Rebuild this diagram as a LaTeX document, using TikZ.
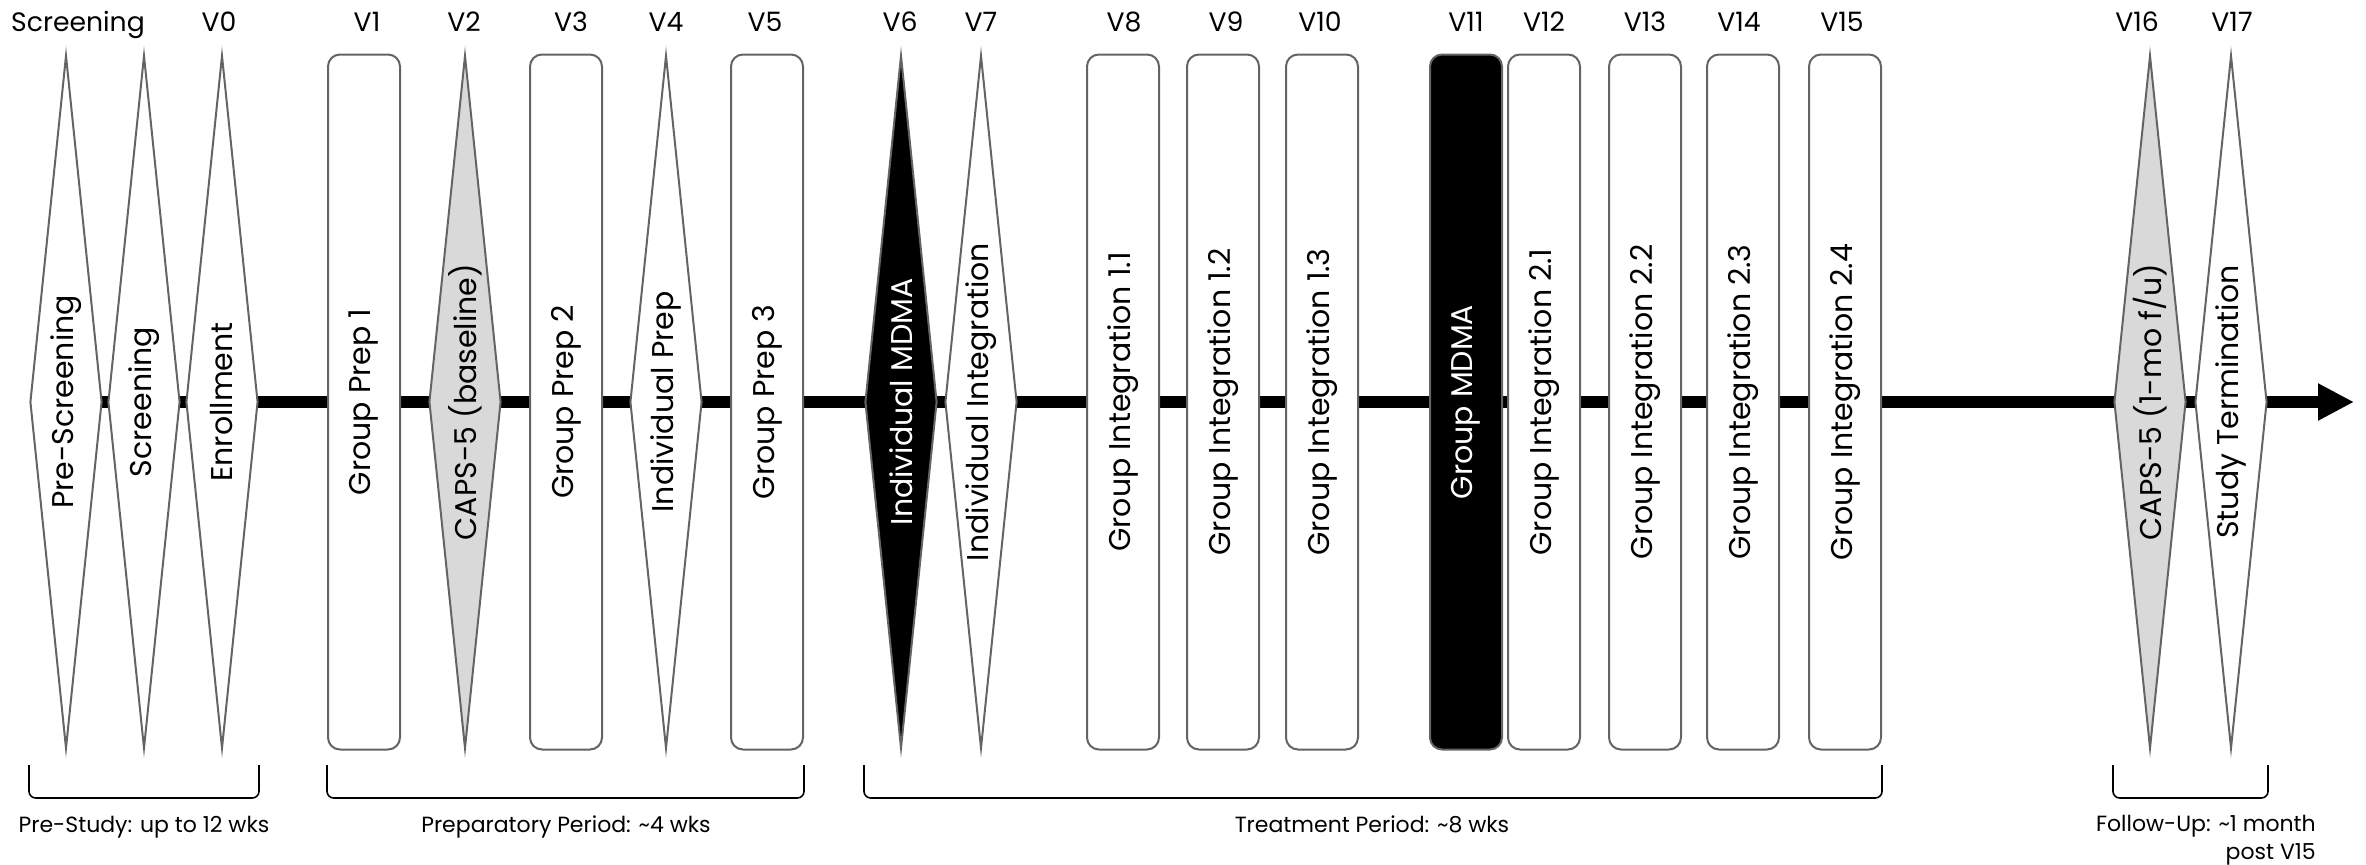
\documentclass[tikz,border=0pt]{standalone}
\usepackage{fontspec}
\usepackage{graphicx}
\setmainfont{Poppins}
\usetikzlibrary{shapes.geometric,arrows.meta,backgrounds}
\definecolor{outl}{RGB}{100,100,96}
\definecolor{capsgray}{RGB}{217,217,217}
\begin{document}
\begin{tikzpicture}[x=0.75pt,y=-0.75pt,
  visit/.style={draw=outl, line width=1.5pt, fill=white, inner sep=0pt, font=\fontsize{22.5}{26}\selectfont},
  dia/.style={visit, diamond, aspect=0.1, minimum width=54pt, minimum height=519.75pt},
  box/.style={visit, rectangle, rounded corners=9pt, minimum width=54pt, minimum height=521.25pt},
  dark/.style={fill=black, text=white},
  grayf/.style={fill=capsgray},
  vlabel/.style={font=\fontsize{20}{24}\selectfont, inner sep=0pt, anchor=base},
  plabel/.style={font=\fontsize{16.5}{21}\selectfont, inner sep=0pt},
  bracket/.style={draw=black, line width=1.2pt, rounded corners=5pt},
  timeline/.style={line width=8.6pt, -{Triangle[length=27pt,width=26pt]}}
]
\useasboundingbox (0,0) rectangle (2366,864);

% visits
\node[dia] (prescreen) at (66,402) {\rotatebox{90}{Pre-Screening}};
\node[dia] (screen) at (144,402) {\rotatebox{90}{Screening}};
\node[dia] (enroll) at (222,402) {\rotatebox{90}{Enrollment}};
\node[box] (gp1) at (364,402) {\rotatebox{90}{Group Prep 1}};
\node[dia, grayf] (caps) at (465,402) {\rotatebox{90}{CAPS-5 (baseline)}};
\node[box] (gp2) at (566,402) {\rotatebox{90}{Group Prep 2}};
\node[dia] (ip) at (666,402) {\rotatebox{90}{Individual Prep}};
\node[box] (gp3) at (767,402) {\rotatebox{90}{Group Prep 3}};
\node[dia, dark] (imdma) at (901,402) {\rotatebox{90}{Individual MDMA}};
\node[dia] (ii) at (981,402) {\rotatebox{90}{Individual Integration}};
\node[box] (gi11) at (1123,402) {\rotatebox{90}{Group Integration 1.1}};
\node[box] (gi12) at (1223,402) {\rotatebox{90}{Group Integration 1.2}};
\node[box] (gi13) at (1322,402) {\rotatebox{90}{Group Integration 1.3}};
\node[box, dark] (gmdma) at (1466,402) {\rotatebox{90}{Group MDMA}};
\node[box] (gi21) at (1544,402) {\rotatebox{90}{Group Integration 2.1}};
\node[box] (gi22) at (1645,402) {\rotatebox{90}{Group Integration 2.2}};
\node[box] (gi23) at (1743,402) {\rotatebox{90}{Group Integration 2.3}};
\node[box] (gi24) at (1845,402) {\rotatebox{90}{Group Integration 2.4}};
\node[dia, grayf] (capsfu) at (2150,402) {\rotatebox{90}{CAPS-5 (1-mo f/u)}};
\node[dia] (term) at (2231,402) {\rotatebox{90}{Study Termination}};
\coordinate (tip) at (2354,402);

% timeline
\begin{pgfonlayer}{background}
\draw[timeline] (prescreen.center) -- (screen.center) -- (enroll.center) -- (gp1.center)
  -- (caps.center) -- (gp2.center) -- (ip.center) -- (gp3.center) -- (imdma.center)
  -- (ii.center) -- (gi11.center) -- (gi12.center) -- (gi13.center) -- (gmdma.center)
  -- (gi21.center) -- (gi22.center) -- (gi23.center) -- (gi24.center) -- (capsfu.center)
  -- (term.center) -- (tip);
\end{pgfonlayer}

% top labels
\node[vlabel] (lscr) at (78,31) {Screening};
\node[vlabel] (l0) at (219,31) {V0};
\node[vlabel] (l1) at (367,31) {V1};
\node[vlabel] (l2) at (464,31) {V2};
\node[vlabel] (l3) at (571,31) {V3};
\node[vlabel] (l4) at (666,31) {V4};
\node[vlabel] (l5) at (765,31) {V5};
\node[vlabel] (l6) at (900,31) {V6};
\node[vlabel] (l7) at (981,31) {V7};
\node[vlabel] (l8) at (1124,31) {V8};
\node[vlabel] (l9) at (1226,31) {V9};
\node[vlabel] (l10) at (1320,31) {V10};
\node[vlabel] (l11) at (1466,31) {V11};
\node[vlabel] (l12) at (1544,31) {V12};
\node[vlabel] (l13) at (1645,31) {V13};
\node[vlabel] (l14) at (1739,31) {V14};
\node[vlabel] (l15) at (1842,31) {V15};
\node[vlabel] (l16) at (2137,31) {V16};
\node[vlabel] (l17) at (2232,31) {V17};

% brackets
\coordinate (bt) at (0,765);
\coordinate (bb) at (0,798);
\draw[bracket] (prescreen.west |- bt) -- (prescreen.west |- bb) -- (enroll.east |- bb) -- (enroll.east |- bt);
\draw[bracket] (gp1.west |- bt) -- (gp1.west |- bb) -- (gp3.east |- bb) -- (gp3.east |- bt);
\draw[bracket] (imdma.west |- bt) -- (imdma.west |- bb) -- (gi24.east |- bb) -- (gi24.east |- bt);
\draw[bracket] (capsfu.west |- bt) -- (capsfu.west |- bb) -- (term.east |- bb) -- (term.east |- bt);

% period labels
\node[plabel, anchor=base] (ppre) at (144,832) {Pre-Study: up to 12 wks};
\node[plabel, anchor=base] (pprep) at (566,832) {Preparatory Period: \textasciitilde4 wks};
\node[plabel, anchor=base] (ptreat) at (1372,832) {Treatment Period: \textasciitilde8 wks};
\node[plabel, anchor=north east, align=right] (pfu) at (2316,815) {Follow-Up: \textasciitilde1 month\\post V15};
\end{tikzpicture}
\end{document}
